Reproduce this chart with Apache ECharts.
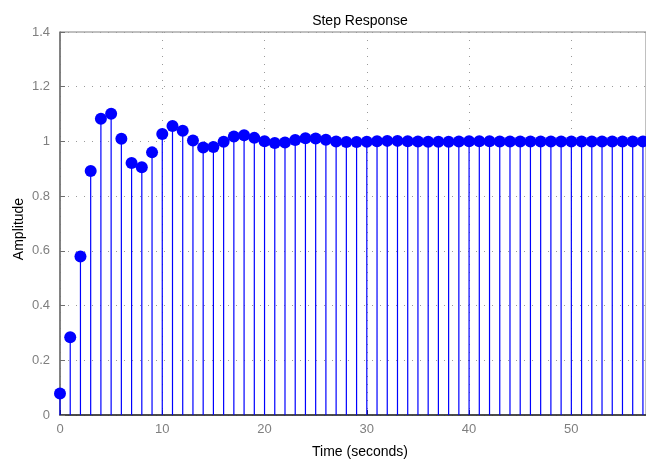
<!DOCTYPE html>
<html>
<head>
<meta charset="utf-8">
<script src="https://cdn.jsdelivr.net/npm/echarts@6/dist/echarts.min.js"></script>
<style>
  html, body { margin: 0; padding: 0; background: #fff; }
  #chart { width: 646px; height: 461px; }
</style>
</head>
<body>
<div id="chart"></div>
<script>
// Discrete step response samples (one per second)
const times = [
  0, 1, 2, 3, 4, 5, 6, 7, 8, 9,
  10, 11, 12, 13, 14, 15, 16, 17, 18, 19,
  20, 21, 22, 23, 24, 25, 26, 27, 28, 29,
  30, 31, 32, 33, 34, 35, 36, 37, 38, 39,
  40, 41, 42, 43, 44, 45, 46, 47, 48, 49,
  50, 51, 52, 53, 54, 55, 56, 57
];
const amplitude = [
  0.079, 0.284, 0.579, 0.892, 1.083, 1.101, 1.010, 0.921, 0.906, 0.960,
  1.027, 1.056, 1.039, 1.003, 0.978, 0.980, 0.999, 1.018, 1.023, 1.013,
  1.001, 0.994, 0.996, 1.005, 1.012, 1.011, 1.006, 1.000, 0.998, 0.998,
  0.999, 1.001, 1.002, 1.002, 1.001, 1.000, 0.999, 0.999, 0.999, 1.000,
  1.001, 1.001, 1.001, 1.000, 1.000, 1.000, 1.000, 1.000, 1.000, 1.000,
  1.000, 1.000, 1.000, 1.000, 1.000, 1.000, 1.000, 1.000
];
const xTicks = [0, 10, 20, 30, 40, 50];
const yTicks = [0, 0.2, 0.4, 0.6, 0.8, 1, 1.2, 1.4];

const points = times.map((t, i) => [t, amplitude[i]]);
const FONT = '"Liberation Sans", Arial, sans-serif';
const gridLine = { show: true, lineStyle: { color: '#9a9a9a', width: 1, type: [1, 7] } };
const pick = list => v => {
  const hit = list.find(t => Math.abs(t - v) < 1e-9);
  return hit === undefined ? '' : String(hit);
};

const chart = echarts.init(document.getElementById('chart'), null, { renderer: 'canvas' });
chart.setOption({
  animation: false,
  backgroundColor: '#fff',
  title: {
    text: 'Step Response',
    left: 355, top: 9, textAlign: 'center',
    textStyle: { fontFamily: FONT, fontSize: 14, fontWeight: 'normal', color: '#000' }
  },
  graphic: [
    {
      // y-axis caption, rotated
      type: 'text',
      x: 19, y: 229, rotation: Math.PI / 2,
      style: {
        text: 'Amplitude', fontFamily: FONT, fontSize: 14, fill: '#000',
        align: 'center', verticalAlign: 'middle'
      }
    }
  ],
  grid: {
    left: 60, top: 32, bottom: 46, right: 0,
    outerBoundsMode: 'none', containLabel: false,
    show: true, borderColor: '#808080', borderWidth: 1, backgroundColor: '#fff'
  },
  xAxis: {
    type: 'value', min: 0, max: 57.3, interval: 10,
    name: 'Time (seconds)', nameLocation: 'middle', nameGap: 30,
    nameTextStyle: { fontFamily: FONT, fontSize: 14, color: '#000', padding: [0, 0, 0, 14] },
    axisLine: { show: true, onZero: false, lineStyle: { color: '#262626', width: 1.5 } },
    axisTick: { show: true, inside: true, length: 5, lineStyle: { color: '#262626' } },
    axisLabel: {
      fontFamily: FONT, fontSize: 13, color: '#7f7f7f', margin: 8,
      showMaxLabel: false, formatter: pick(xTicks)
    },
    splitLine: gridLine
  },
  yAxis: {
    type: 'value', min: 0, max: 1.4, interval: 0.2,
    axisLine: { show: true, lineStyle: { color: '#6e6e6e', width: 1.5 } },
    axisTick: { show: true, inside: true, length: 5, lineStyle: { color: '#6e6e6e' } },
    axisLabel: { fontFamily: FONT, fontSize: 13, color: '#7f7f7f', margin: 10, formatter: pick(yTicks) },
    splitLine: gridLine
  },
  series: [
    {
      // vertical stems from the baseline to each sample
      type: 'custom',
      data: points,
      z: 2,
      renderItem: (params, api) => {
        const top = api.coord([api.value(0), api.value(1)]);
        const base = api.coord([api.value(0), 0]);
        return {
          type: 'line',
          shape: { x1: top[0], y1: top[1], x2: base[0], y2: base[1] },
          style: { stroke: '#0000ff', lineWidth: 1.2 }
        };
      }
    },
    {
      type: 'scatter',
      data: points,
      symbol: 'circle',
      symbolSize: 12,
      z: 3,
      itemStyle: { color: '#0000ff', opacity: 1 }
    }
  ]
});
</script>
</body>
</html>
